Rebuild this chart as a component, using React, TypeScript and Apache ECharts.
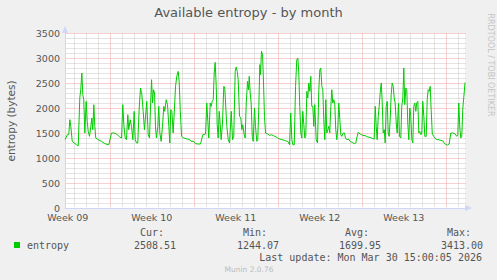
import React, { useEffect, useRef } from 'react';
import * as echarts from 'echarts';

// x: days since Sun 1 Mar 2026 00:00 (week boundaries on Sundays)
const dayOffsets = [
  -3.73, -3.53, -3.42, -3.33, -3.25, -3.13, -2.97, -2.78, -2.63, -2.5, -2.42, -2.33, -2.25, -2.17, -2.08,
  -1.97, -1.88, -1.8, -1.69, -1.58, -1.5, -1.42, -1.33, -1.25, -1.17, -0.97, -0.69, -0.42, -0.08,
  0.14, 0.37, 0.56, 0.83, 0.98, 1.08, 1.17, 1.28, 1.39, 1.5, 1.58, 1.7, 1.81, 1.92, 2.03, 2.12, 2.23,
  2.33, 2.45, 2.56, 2.67, 2.78, 2.89, 3.08, 3.2, 3.31, 3.39, 3.48, 3.56, 3.64, 3.73, 3.81, 3.89, 4.0,
  4.08, 4.17, 4.28, 4.39, 4.5, 4.58, 4.7, 4.81, 4.92, 5.0, 5.08, 5.17, 5.28, 5.39, 5.48, 5.58, 5.7,
  5.78, 5.87, 5.98, 6.17, 6.45, 6.67, 6.78, 7.0, 7.14, 7.37, 7.56, 7.75, 7.98, 8.08, 8.17, 8.25, 8.37,
  8.45, 8.53, 8.62, 8.7, 8.78, 8.87, 8.95, 9.03, 9.12, 9.2, 9.28, 9.39, 9.5, 9.58, 9.67, 9.75, 9.87,
  9.98, 10.12, 10.23, 10.33, 10.45, 10.53, 10.62, 10.7, 10.81, 10.92, 11.0, 11.08, 11.2, 11.28, 11.37,
  11.48, 11.56, 11.62, 11.7, 11.78, 11.87, 11.95, 12.06, 12.14, 12.25, 12.33, 12.42, 12.5, 12.56,
  12.64, 12.73, 12.81, 12.89, 12.98, 13.17, 13.31, 13.45, 13.64, 13.87, 14.08, 14.37, 14.64, 14.83,
  14.98, 15.08, 15.17, 15.25, 15.37, 15.48, 15.58, 15.67, 15.75, 15.83, 15.92, 16.0, 16.08, 16.17,
  16.25, 16.33, 16.42, 16.5, 16.58, 16.67, 16.75, 16.83, 16.92, 17.0, 17.08, 17.2, 17.31, 17.42, 17.5,
  17.58, 17.67, 17.75, 17.83, 17.92, 18.0, 18.08, 18.17, 18.25, 18.33, 18.42, 18.5, 18.58, 18.67,
  18.75, 18.83, 18.92, 19.0, 19.08, 19.17, 19.25, 19.33, 19.45, 19.56, 19.64, 19.75, 19.89, 20.03,
  20.2, 20.37, 20.5, 20.58, 20.7, 20.87, 21.08, 21.28, 21.5, 21.7, 21.92, 22.03, 22.12, 22.2, 22.28,
  22.37, 22.45, 22.53, 22.62, 22.7, 22.78, 22.87, 22.95, 23.03, 23.12, 23.2, 23.28, 23.37, 23.45,
  23.53, 23.62, 23.7, 23.78, 23.87, 23.95, 24.06, 24.14, 24.25, 24.33, 24.42, 24.5, 24.58, 24.67,
  24.75, 24.83, 24.92, 25.0, 25.08, 25.17, 25.25, 25.33, 25.42, 25.5, 25.58, 25.67, 25.75, 25.83,
  25.92, 26.0, 26.08, 26.17, 26.25, 26.37, 26.45, 26.53, 26.62, 26.7, 26.78, 26.87, 26.98, 27.08,
  27.25, 27.42, 27.58, 27.73, 27.87, 28.0, 28.14, 28.28, 28.42, 28.58, 28.75, 28.92, 29.0, 29.08,
  29.17, 29.25, 29.33, 29.42, 29.53, 29.6,
];

const entropyValues = [
  1370, 1466, 1466, 1766, 1633, 1333, 1300, 1266, 1244, 2200, 2366, 2700, 2266, 2166, 1500,
  2133, 1733, 1533, 1433, 1633, 1800, 1566, 2066, 1633, 1400, 1366, 1333, 1286, 1266,
  1500, 1500, 1480, 1420, 1400, 2066, 1666, 1400, 1366, 1866, 1566, 1766, 1633, 1366, 1933, 1366, 1300,
  1300, 2000, 2400, 2266, 1933, 1566, 2133, 1466, 1400, 2000, 2566, 2100, 2366, 2300, 1600, 1400, 1633,
  2033, 1500, 1333, 1633, 2033, 1933, 2166, 2066, 1633, 1300, 1966, 1933, 1500, 2000, 2433, 2633, 2733,
  2533, 1966, 1433, 1400, 1380, 1366, 1333, 1333, 1286, 1280, 1280, 1466, 1480, 2100, 1733, 1400, 2100,
  2033, 2133, 2166, 2700, 2913, 2433, 1666, 1400, 1933, 1666, 1366, 1700, 2433, 2400, 2000, 1633, 1366,
  1300, 1933, 1366, 1433, 2733, 2820, 2733, 2566, 1833, 1800, 1566, 1666, 1466, 1400, 2100,
  2533, 2366, 2633, 2300, 2100, 1433, 1333, 2000, 1633, 1333, 1366, 2033, 2866, 2666,
  3133, 3066, 2500, 1833, 1500, 1480, 1450, 1466, 1446, 1420, 1386, 1366, 1346, 1333,
  1266, 1900, 1366, 1266, 1266, 2433, 2966, 3000, 2700, 2033, 1500, 1400, 1933, 1666,
  1400, 1433, 2333, 2200, 2500, 2333, 2633, 2033, 2033, 1633, 2066, 1366, 1300, 2366, 2766,
  2800, 2433, 2366, 1766, 1366, 2166, 1500, 1566, 1633, 1500, 2033, 2366, 2100, 2166,
  2066, 1566, 1366, 1600, 2100, 1766, 1466, 1433, 1500, 1500, 1400, 1366, 1380, 1333,
  1313, 1286, 1300, 1400, 1513, 1480, 1453, 1446, 1420, 1413, 1386, 1380, 2033, 1633, 1366,
  1833, 2033, 2300, 2500, 2133, 1500, 1566, 1300, 2033, 2133, 1500, 1433, 1800, 2266,
  2500, 2433, 2200, 2100, 1700, 1500, 2100, 1433, 1400, 2033, 2200, 2800, 2066, 2400,
  2366, 1700, 1366, 2000, 1833, 1366, 1300, 2033, 2100, 1933, 2100, 2133, 1500, 1533,
  1466, 1500, 2133, 1833, 1433, 1433, 2166, 2366, 2333, 2433, 1966, 1500, 1433, 1400,
  1366, 1366, 1353, 1346, 1300, 1266, 1260, 1280, 1500, 1500, 1486, 1433, 1466, 2100,
  1600, 1400, 1433, 2000, 2300, 2508,
];

const gridDays = [-3, -2, -1, 0, 1, 2, 3, 4, 5, 6, 7, 8, 9, 10, 11, 12, 13, 14, 15, 16, 17, 18, 19, 20, 21, 22, 23, 24, 25, 26, 27, 28, 29];
const gridValues = [100, 200, 300, 400, 500, 600, 700, 800, 900, 1000, 1100, 1200, 1300, 1400, 1500, 1600, 1700, 1800, 1900, 2000, 2100, 2200, 2300, 2400, 2500, 2600, 2700, 2800, 2900, 3000, 3100, 3200, 3300, 3400, 3500];
const weekCenters = [-3.5, 3.5, 10.5, 17.5, 24.5];
const weekLabels = ['Week 09', 'Week 10', 'Week 11', 'Week 12', 'Week 13'];
const statHeaders = ['Cur:', 'Min:', 'Avg:', 'Max:'];
const statValues = ['2508.51', '1244.07', '1699.95', '3413.00'];
const seriesName = 'entropy';
const titleText = 'Available entropy - by month';
const yAxisTitle = 'entropy (bytes)';
const lastUpdate = 'Last update: Mon Mar 30 15:00:05 2026';
const versionText = 'Munin 2.0.76';
const watermark = 'RRDTOOL / TOBI OETIKER';

const X_MIN = -3.7333;
const X_MAX = 29.6;
const Y_MIN = 0;
const Y_MAX = 3500;

const SANS = '"DejaVu Sans", sans-serif';
const MONO = '"DejaVu Sans Mono", monospace';
const AXIS = '#CFD6F8';
const MGRID = '#f2a0a0';
const GRID = '#c8c8c8';
const FONT = '#555555';
const LINE = '#00cc00';

export default function App() {
  const ref = useRef<HTMLDivElement>(null);
  useEffect(() => {
    if (!ref.current) return;
    const chart = echarts.init(ref.current, undefined, { renderer: 'svg' });
    const statX = [134, 237, 339, 441];
    const headerX = [140, 243, 345, 447];
    const graphic: any[] = [
      {
        type: 'text', x: 11, y: 121, rotation: Math.PI / 2,
        style: { text: yAxisTitle, font: `10.5px ${SANS}`, fill: FONT, align: 'center', verticalAlign: 'middle' },
      },
      {
        type: 'text', x: 490, y: 65, rotation: -Math.PI / 2,
        style: { text: watermark, font: `8px ${SANS}`, fill: '#c4c4c4', align: 'center', verticalAlign: 'middle' },
      },
      { type: 'rect', shape: { x: 14, y: 242, width: 6, height: 6 }, style: { fill: LINE } },
      {
        type: 'text', x: 27, y: 245,
        style: { text: seriesName, font: `10px ${MONO}`, fill: FONT, align: 'left', verticalAlign: 'middle' },
      },
      {
        type: 'text', x: 482, y: 257,
        style: { text: lastUpdate, font: `10px ${MONO}`, fill: FONT, align: 'right', verticalAlign: 'middle' },
      },
      {
        type: 'text', x: 249, y: 269,
        style: { text: versionText, font: `7.5px ${SANS}`, fill: '#bbbbbb', align: 'center', verticalAlign: 'middle' },
      },
    ];
    statHeaders.forEach((h, i) => {
      graphic.push({
        type: 'text', x: headerX[i], y: 232,
        style: { text: h, font: `10px ${MONO}`, fill: FONT, align: 'left', verticalAlign: 'middle' },
      });
      graphic.push({
        type: 'text', x: statX[i], y: 245,
        style: { text: statValues[i], font: `10px ${MONO}`, fill: FONT, align: 'left', verticalAlign: 'middle' },
      });
    });

    const dash = { lineDash: [1, 1], lineWidth: 1, fill: null };

    chart.setOption({
      animation: false,
      backgroundColor: '#f0f0f0',
      title: {
        text: titleText, left: 'center', top: 6, padding: 0,
        textStyle: { fontFamily: SANS, fontSize: 13, fontWeight: 'normal', color: FONT },
      },
      grid: { left: 65, top: 33, width: 400, height: 175, show: true, backgroundColor: '#ffffff', borderWidth: 0 },
      xAxis: {
        type: 'value', min: X_MIN, max: X_MAX,
        axisLine: {
          show: true, onZero: true, symbol: ['none', 'triangle'], symbolSize: [6, 7], symbolOffset: [0, 3.5],
          lineStyle: { color: AXIS, width: 1 },
        },
        axisTick: { show: false },
        axisLabel: { show: false },
        splitLine: { show: false },
      },
      yAxis: {
        type: 'value', min: Y_MIN, max: Y_MAX, interval: 500,
        axisLine: {
          show: true, onZero: false, symbol: ['none', 'triangle'], symbolSize: [6, 7], symbolOffset: [0, 3.5],
          lineStyle: { color: AXIS, width: 1 },
        },
        axisTick: { show: false },
        axisLabel: { color: FONT, fontFamily: SANS, fontSize: 9.5, margin: 5, formatter: (v: number) => String(v) },
        splitLine: { show: false },
      },
      graphic,
      series: [
        {
          type: 'custom',
          silent: true,
          z: 1,
          data: gridDays.map((d) => [d, Y_MIN]),
          renderItem: (params: any, api: any) => {
            const d = api.value(0);
            const top = api.coord([d, Y_MAX]);
            const bottom = api.coord([d, Y_MIN]);
            const x = Math.round(top[0]) + 0.5;
            const major = Math.abs(d % 7) < 1e-6;
            return {
              type: 'line',
              z2: major ? 2 : 1,
              shape: { x1: x, y1: Math.round(top[1]) + 0.5, x2: x, y2: Math.round(bottom[1]) - 0.5 },
              style: { ...dash, stroke: major ? MGRID : GRID },
            };
          },
        },
        {
          type: 'custom',
          silent: true,
          z: 1,
          data: gridValues.map((v) => [X_MIN, v]),
          renderItem: (params: any, api: any) => {
            const v = api.value(1);
            const l = api.coord([X_MIN, v]);
            const r = api.coord([X_MAX, v]);
            const y = Math.round(l[1]) + 0.5;
            const major = v % 500 === 0;
            return {
              type: 'line',
              z2: major ? 2 : 1,
              shape: { x1: Math.round(l[0]) + 1.5, y1: y, x2: Math.round(r[0]) + 0.5, y2: y },
              style: { ...dash, stroke: major ? MGRID : GRID },
            };
          },
        },
        {
          type: 'custom',
          silent: true,
          clip: false,
          z: 1,
          data: weekCenters.map((c) => [c, Y_MIN]),
          renderItem: (params: any, api: any) => {
            const p = api.coord([api.value(0), Y_MIN]);
            return {
              type: 'text',
              x: p[0],
              y: p[1] + 4.5,
              style: {
                text: weekLabels[params.dataIndex], font: `9.5px ${SANS}`, fill: FONT,
                align: 'center', verticalAlign: 'top',
              },
            };
          },
        },
        {
          type: 'line',
          name: seriesName,
          z: 3,
          data: dayOffsets.map((d, i) => [d, entropyValues[i]]),
          showSymbol: false,
          symbol: 'none',
          lineStyle: { color: LINE, width: 1 },
          itemStyle: { color: LINE },
        },
      ],
    });
    return () => chart.dispose();
  }, []);
  return <div ref={ref} style={{ position: 'fixed', left: 0, top: 0, width: 497, height: 280 }} />;
}
